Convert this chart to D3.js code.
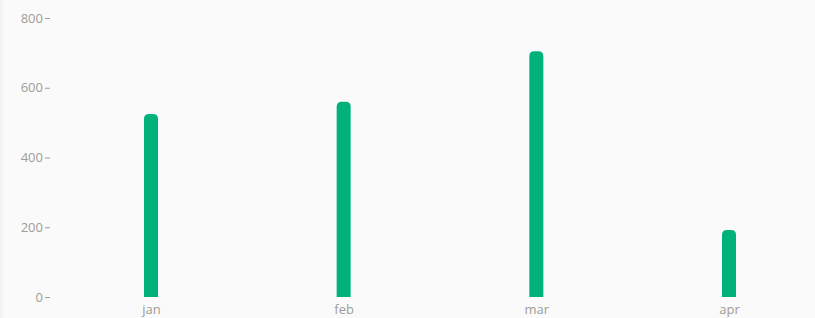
<!DOCTYPE html>
<meta charset="utf-8">
<script src="https://cdn.jsdelivr.net/npm/d3@7"></script>
<style>
  body { margin: 0; background: #fafafa; }
  .axis text { font-family: "Open Sans", sans-serif; font-size: 13px; fill: #a09c98; }
  .axis line { stroke: #a09c98; }
  .axis .domain { display: none; }
</style>
<body>
<script>

var months = ["jan", "feb", "mar", "apr"]
var values = [525, 560, 705, 192]
var yTicks = [0, 200, 400, 600, 800]

var width = 815
var height = 318

var x = d3.scalePoint().domain(months).range([151, 729]);
var y = d3.scaleLinear().domain([0, 800]).range([297, 18]);

var svg = d3.select("body").append("svg")
            .attr("width", width)
            .attr("height", height)
            .style("display", "block");

svg.append("rect").attr("x", 0).attr("y", 0).attr("width", 3).attr("height", height).attr("fill", "#f3f3f3");

svg.append("g")
    .attr("class", "axis")
    .attr("transform", "translate(50,0)")
    .call(d3.axisLeft(y).tickValues(yTicks).tickSize(5).tickPadding(2));

svg.append("g")
    .attr("class", "axis")
    .attr("transform", "translate(0,297)")
    .call(d3.axisBottom(x).tickSize(0).tickPadding(8));

var barW = 14, r = 5

function barPath(d, i) {
  var cx = x(months[i]), x0 = cx - barW/2, x1 = cx + barW/2
  var top = y(d), bottom = y(0)
  return "M" + x0 + "," + bottom +
         "L" + x0 + "," + (top + r) +
         "Q" + x0 + "," + top + " " + (x0 + r) + "," + top +
         "L" + (x1 - r) + "," + top +
         "Q" + x1 + "," + top + " " + x1 + "," + (top + r) +
         "L" + x1 + "," + bottom + "Z"
}

svg.append("g").selectAll("path")
   .data(values)
   .join("path")
   .attr("d", barPath)
   .attr("fill", "#00b27a");

</script>
</body>
